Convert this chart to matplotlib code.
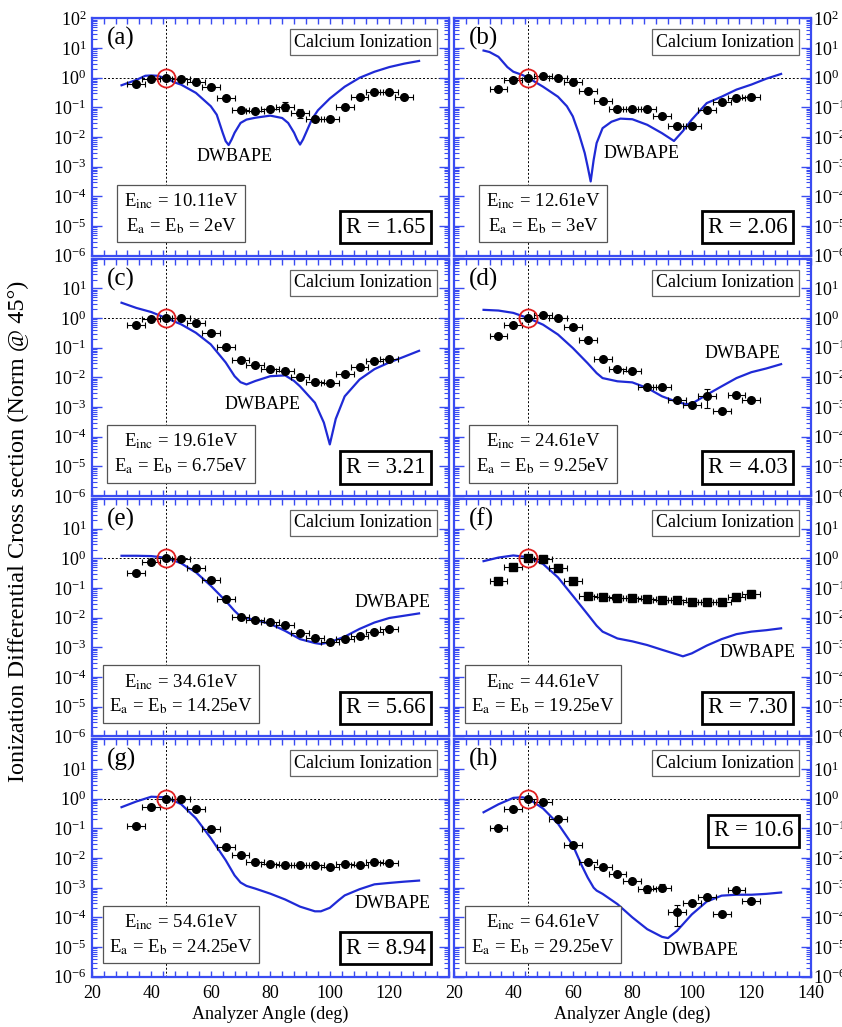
"""Calcium (e,2e) ionization: normalised TDCS vs analyzer angle, 8 energies."""

import matplotlib

matplotlib.use("Agg")
import matplotlib.pyplot as plt
from matplotlib.ticker import FixedLocator, LogFormatterSciNotation, LogLocator
from matplotlib.ticker import MultipleLocator, NullFormatter

plt.rcParams["font.family"] = ["Liberation Serif", "DejaVu Serif"]
plt.rcParams["mathtext.fontset"] = "stix"

# --- experimental points (normalised to 1 at 45 deg) ---
exp_angles = [35, 40, 45, 50, 55, 60, 65, 70, 75, 80, 85, 90, 95, 100, 105, 110, 115, 120]
exp_angles_a = [35, 40, 45, 50, 55, 60, 65, 70, 75, 80, 85, 90, 95, 100, 105, 110, 115, 120, 125]

exp_a = [0.63, 0.93, 1.0, 0.9, 0.71, 0.49, 0.21, 0.083, 0.078, 0.091, 0.107, 0.063, 0.041,
         0.040, 0.104, 0.22, 0.34, 0.33, 0.23]
exp_b = [0.41, 0.83, 1.0, 1.17, 1.0, 0.72, 0.37, 0.17, 0.089, 0.089, 0.087, 0.053, 0.024,
         0.023, 0.082, 0.15, 0.21, 0.23]
exp_c = [0.6, 0.9, 1.0, 1.0, 0.66, 0.31, 0.11, 0.038, 0.026, 0.019, 0.017, 0.010, 0.0069,
         0.0063, 0.0126, 0.022, 0.035, 0.041]
exp_d = [0.25, 0.58, 1.0, 1.26, 1.02, 0.52, 0.18, 0.043, 0.019, 0.016, 0.0047, 0.0046,
         0.0017, 0.0012, 0.0024, 0.00074, 0.0025, 0.0017]
exp_e = [0.32, 0.74, 1.0, 0.93, 0.49, 0.19, 0.043, 0.0105, 0.0085, 0.0074, 0.0055, 0.0030,
         0.0020, 0.0015, 0.0019, 0.0025, 0.0033, 0.0042]
exp_f = [0.18, 0.52, 1.0, 0.98, 0.47, 0.18, 0.055, 0.049, 0.048, 0.048, 0.044, 0.041, 0.041,
         0.033, 0.034, 0.035, 0.050, 0.061]
exp_g = [0.125, 0.51, 1.0, 0.97, 0.44, 0.096, 0.023, 0.0126, 0.0074, 0.0062, 0.0060, 0.0059,
         0.0060, 0.0049, 0.0062, 0.0059, 0.0072, 0.0069]
exp_h = [0.107, 0.46, 1.0, 0.79, 0.20, 0.027, 0.0076, 0.0049, 0.0028, 0.0017, 0.00091,
         0.0010, 0.00015, 0.00030, 0.00050, 0.000126, 0.00085, 0.00036]

# relative y errors (default) and the few larger ones: (panel, angle) -> (down, up)
rel_err = 0.12
big_err = {
    ("a", 85): (0.3, 0.4), ("a", 90): (0.3, 0.4),
    ("d", 105): (0.62, 0.66),
    ("h", 85): (0.25, 0.3), ("h", 90): (0.25, 0.35), ("h", 95): (0.65, 0.7),
}
ang_err = 3.0

# --- DWBAPE theory curves ---
th_x_a = [30, 35, 38, 40, 42, 45, 48, 50, 55, 60, 62, 64, 65, 66, 67, 68, 70, 72, 75, 80,
          84, 86, 88, 89, 90, 91, 92, 94, 96, 100, 105, 110, 115, 120, 125, 130]
th_a = [0.56, 0.85, 1.17, 1.2, 1.17, 0.97, 0.69, 0.59, 0.31, 0.11, 0.057, 0.014, 0.0073,
        0.0054, 0.0083, 0.014, 0.03, 0.039, 0.045, 0.053, 0.044, 0.03, 0.014, 0.0083,
        0.0056, 0.0083, 0.014, 0.04, 0.08, 0.2, 0.5, 1.0, 1.6, 2.3, 3.0, 3.7]
th_x_b = [30, 32, 35, 38, 40, 43, 45, 50, 55, 58, 60, 62, 64, 65, 66, 67, 68, 70, 73, 76,
          80, 85, 90, 94, 97, 100, 105, 110, 115, 120, 125, 130]
th_b = [8.3, 7.4, 5.1, 2.3, 1.6, 1.25, 1.0, 0.5, 0.23, 0.11, 0.05, 0.0135, 0.0029, 0.001,
        0.00032, 0.0017, 0.0063, 0.02, 0.033, 0.042, 0.04, 0.026, 0.0135, 0.0074, 0.016,
        0.039, 0.14, 0.23, 0.4, 0.59, 0.93, 1.35]
th_x_c = [30, 35, 40, 45, 50, 55, 60, 65, 68, 70, 72, 75, 80, 85, 88, 90, 95, 98, 100, 102,
          105, 110, 115, 120, 125, 130]
th_c = [3.3, 2.2, 1.6, 1.0, 0.62, 0.32, 0.13, 0.032, 0.011, 0.0069, 0.0058, 0.0076, 0.011,
        0.0117, 0.0076, 0.005, 0.0014, 0.0003, 5.5e-5, 0.0004, 0.0023, 0.0085, 0.019, 0.032,
        0.05, 0.079]
th_x_d = [30, 35, 40, 45, 50, 55, 60, 65, 68, 70, 75, 80, 85, 90, 95, 98, 100, 105, 110,
          115, 120, 125, 130]
th_d = [1.9, 1.8, 1.5, 1.0, 0.6, 0.28, 0.098, 0.03, 0.014, 0.0095, 0.0074, 0.0068, 0.0044,
        0.0023, 0.0015, 0.00126, 0.0013, 0.0026, 0.005, 0.0095, 0.015, 0.02, 0.028]
th_x_e = [30, 35, 40, 45, 50, 55, 60, 65, 68, 70, 75, 80, 85, 90, 95, 97, 100, 105, 110,
          115, 120, 125, 130]
th_e = [1.23, 1.23, 1.2, 1.05, 0.69, 0.34, 0.12, 0.037, 0.017, 0.011, 0.0083, 0.0062,
        0.0036, 0.0019, 0.0014, 0.0013, 0.0015, 0.0023, 0.0042, 0.0069, 0.0098, 0.0117, 0.014]
th_x_f = [30, 35, 40, 45, 50, 55, 60, 65, 68, 70, 75, 80, 85, 90, 95, 97, 100, 105, 110,
          115, 120, 125, 130]
th_f = [0.81, 1.07, 1.26, 1.1, 0.65, 0.23, 0.055, 0.013, 0.0054, 0.0034, 0.002, 0.0016,
        0.0012, 0.00083, 0.00058, 0.0005, 0.00063, 0.00115, 0.0019, 0.0028, 0.0034, 0.0038,
        0.0044]
th_x_g = [30, 35, 40, 45, 50, 55, 60, 65, 68, 70, 72, 75, 80, 85, 90, 95, 97, 100, 103, 105,
          110, 115, 120, 125, 130]
th_g = [0.52, 0.81, 1.17, 1.12, 0.66, 0.22, 0.047, 0.0085, 0.0026, 0.0015, 0.00115, 0.00093,
        0.00063, 0.0004, 0.00023, 0.00016, 0.00016, 0.00021, 0.00038, 0.00055, 0.00089,
        0.0013, 0.00145, 0.0016, 0.00174]
th_x_h = [30, 35, 40, 43, 45, 50, 55, 60, 63, 65, 67, 68, 70, 75, 80, 85, 90, 92, 95, 100,
          105, 110, 115, 120, 125, 130]
th_h = [0.35, 0.65, 1.07, 1.12, 1.02, 0.47, 0.145, 0.027, 0.0056, 0.0022, 0.001, 0.0008,
        0.00062, 0.00028, 0.0001, 4.0e-5, 2.2e-5, 2.0e-5, 3.5e-5, 0.000126, 0.00034, 0.00054,
        0.00058, 0.00058, 0.00062, 0.00069]

panel_keys = ["a", "b", "c", "d", "e", "f", "g", "h"]
e_inc = ["10.11", "12.61", "19.61", "24.61", "34.61", "44.61", "54.61", "64.61"]
e_ab = ["2", "3", "6.75", "9.25", "14.25", "19.25", "24.25", "29.25"]
r_values = ["1.65", "2.06", "3.21", "4.03", "5.66", "7.30", "8.94", "10.6"]

# labelled ticks (the top decade / last angle are left unlabelled where panels meet)
y_decades_top = [1e-6, 1e-5, 1e-4, 1e-3, 1e-2, 1e-1, 1e0, 1e1, 1e2]
y_decades = [1e-6, 1e-5, 1e-4, 1e-3, 1e-2, 1e-1, 1e0, 1e1]
x_ticks_left = [20, 40, 60, 80, 100, 120]
x_ticks_right = [20, 40, 60, 80, 100, 120, 140]

exp_data = {"a": (exp_angles_a, exp_a), "b": (exp_angles, exp_b), "c": (exp_angles, exp_c),
            "d": (exp_angles, exp_d), "e": (exp_angles, exp_e), "f": (exp_angles, exp_f),
            "g": (exp_angles, exp_g), "h": (exp_angles, exp_h)}
theory = {"a": (th_x_a, th_a), "b": (th_x_b, th_b), "c": (th_x_c, th_c), "d": (th_x_d, th_d),
          "e": (th_x_e, th_e), "f": (th_x_f, th_f), "g": (th_x_g, th_g), "h": (th_x_h, th_h)}

# label placement (data coords for DWBAPE, axes fraction for the R box)
dwbape_pos = {"a": (68, 2.3e-3), "b": (83, 2.8e-3), "c": (77.5, 1.2e-3), "d": (117, 0.066),
              "e": (121, 0.033), "f": (122, 6.8e-4), "g": (121, 2.9e-4), "h": (103, 7.4e-6)}
r_pos = {k: (0.823, 0.12) for k in panel_keys}
r_pos["h"] = (0.84, 0.615)

SPINE = "#3a4cf2"
CURVE = "#1f2ad6"

fig, axes = plt.subplots(4, 2, figsize=(8.42, 10.27), dpi=100)
fig.subplots_adjust(left=0.109, right=0.963, top=0.982, bottom=0.049, wspace=0.014,
                    hspace=0.013)

for i, key in enumerate(panel_keys):
    row, col = divmod(i, 2)
    ax = axes[row, col]
    xs, ys = exp_data[key]
    lo, hi = [], []
    for x, y in zip(xs, ys):
        d, u = big_err.get((key, x), (rel_err, rel_err))
        lo.append(y * d)
        hi.append(y * u)

    ax.axhline(1.0, color="k", ls=(0, (2, 2)), lw=0.7, zorder=1)
    ax.axvline(45, color="k", ls=(0, (2, 2)), lw=0.7, zorder=1)

    tx, ty = theory[key]
    ax.plot(tx, ty, color=CURVE, lw=1.6, zorder=2)

    marker = "s" if key == "f" else "o"
    ax.errorbar(xs, ys, xerr=ang_err, yerr=[lo, hi], fmt=marker, color="k", ms=5.5,
                elinewidth=0.8, capsize=2.2, capthick=0.8, zorder=3)
    ax.plot(45, 1.0, "o", mfc="none", mec="#e02020", ms=13, mew=1.3, zorder=4)

    ax.set_yscale("log")
    ax.set_ylim(1e-6, 1e2)
    ax.set_xlim(20, 140)
    ax.yaxis.set_major_locator(FixedLocator(y_decades_top if row == 0 else y_decades))
    ax.yaxis.set_minor_locator(LogLocator(base=10, subs=range(1, 10), numticks=20))
    ax.yaxis.set_major_formatter(LogFormatterSciNotation())
    ax.yaxis.set_minor_formatter(NullFormatter())
    ax.xaxis.set_major_locator(FixedLocator(x_ticks_left if col == 0 else x_ticks_right))
    ax.xaxis.set_minor_locator(MultipleLocator(4))

    for sp in ax.spines.values():
        sp.set_color(SPINE)
        sp.set_linewidth(1.6)
    ax.tick_params(which="both", direction="in", top=True, right=True, color=SPINE,
                   labelsize=13, labelcolor="k")
    ax.tick_params(axis="y", which="major", length=7, width=1, pad=4)
    ax.tick_params(axis="y", which="minor", length=3.5, width=0.8)
    ax.tick_params(axis="x", which="both", length=4, width=1, pad=6)
    if col == 1:
        ax.tick_params(axis="y", labelleft=False, labelright=True, pad=1.5)
    if row < 3:
        ax.tick_params(axis="x", labelbottom=False)
    else:
        ax.set_xlabel("Analyzer Angle (deg)", fontsize=13, labelpad=3)

    ax.text(0.042, 0.915, f"({key})", transform=ax.transAxes, fontsize=18, va="center",
            ha="left")
    ax.text(0.76, 0.90, "Calcium Ionization", transform=ax.transAxes, fontsize=13,
            ha="center", va="center",
            bbox=dict(boxstyle="square,pad=0.25", fc="white", ec="#666666", lw=0.9))
    ax.text(0.25, 0.178,
            f"E$_{{\\rm inc}}$ = {e_inc[i]}eV\nE$_{{\\rm a}}$ = E$_{{\\rm b}}$ = {e_ab[i]}eV",
            transform=ax.transAxes, fontsize=13.5, ha="center", va="center",
            linespacing=1.35,
            bbox=dict(boxstyle="square,pad=0.35", fc="white", ec="#555555", lw=0.9))
    rx, ry = r_pos[key]
    ax.text(rx, ry, f"R = {r_values[i]}", transform=ax.transAxes, fontsize=16.5,
            ha="center", va="center",
            bbox=dict(boxstyle="square,pad=0.25", fc="white", ec="k", lw=2))
    dx, dy = dwbape_pos[key]
    ax.text(dx, dy, "DWBAPE", fontsize=13, ha="center", va="center")

fig.text(0.022, 0.483, "Ionization Differential Cross section (Norm @ 45°)", rotation=90,
         fontsize=17.5, ha="center", va="center")

fig.savefig("out.png", dpi=100)
